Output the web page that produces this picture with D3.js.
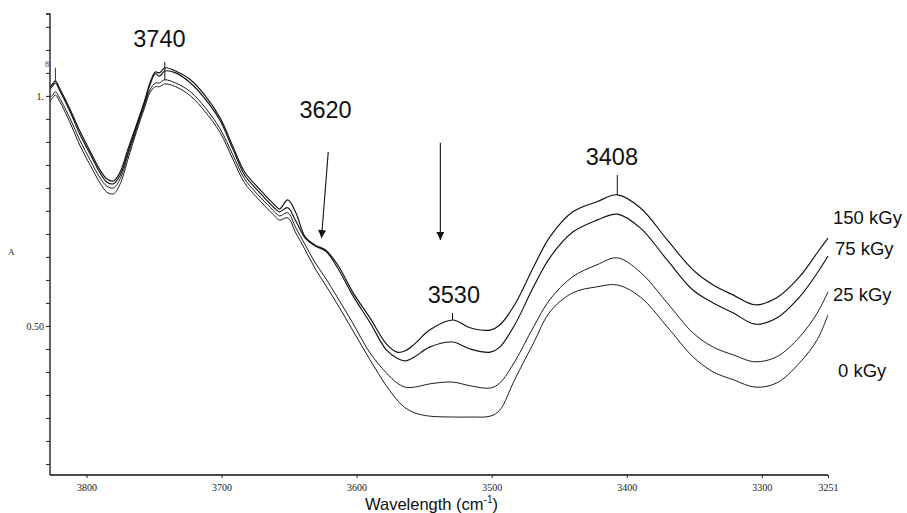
<!DOCTYPE html>
<html>
<head>
<meta charset="utf-8">
<script src="https://cdn.jsdelivr.net/npm/d3@7/dist/d3.min.js"></script>
<style>
  html, body { margin: 0; padding: 0; background: #fff; }
  svg { display: block; }
</style>
</head>
<body>
<svg id="chart" width="907" height="513"></svg>
<script>
// ---- data ----
const wavenumbers = [3827,3825,3823,3820,3812,3805,3797,3790,3785,3780,
  3775,3769,3763,3757,3753,3749,3746,3742,3734,3723,
  3712,3701,3692,3683,3675,3668,3660,3657,3651,3645,
  3638,3631,3623,3614,3603,3590,3578,3570,3564,3557,
  3546,3529,3516,3501,3494,3483,3469,3457,3440,3422,
  3407,3390,3370,3351,3336,3321,3305,3289,3272,3259,3251];

const abs150 = [1.020,1.026,1.033,1.017,0.970,0.924,0.878,0.839,0.820,0.815,
  0.835,0.887,0.937,0.989,1.028,1.052,1.050,1.061,1.054,1.035,
  1.000,0.952,0.893,0.835,0.807,0.785,0.761,0.754,0.774,0.746,
  0.693,0.676,0.665,0.633,0.574,0.517,0.461,0.443,0.446,0.461,
  0.491,0.513,0.496,0.491,0.502,0.546,0.628,0.693,0.748,0.770,
  0.785,0.757,0.687,0.622,0.589,0.567,0.546,0.561,0.607,0.659,0.691];

const abs75 = [1.015,1.022,1.028,1.013,0.965,0.917,0.872,0.833,0.813,0.809,
  0.828,0.880,0.933,0.985,1.024,1.048,1.043,1.054,1.050,1.028,
  0.993,0.946,0.887,0.828,0.800,0.778,0.754,0.748,0.757,0.728,
  0.691,0.674,0.663,0.626,0.567,0.507,0.448,0.430,0.424,0.433,
  0.454,0.465,0.450,0.443,0.454,0.502,0.585,0.648,0.704,0.730,
  0.743,0.713,0.643,0.578,0.550,0.528,0.504,0.517,0.563,0.615,0.652];

const abs25 = [0.996,1.002,1.009,0.996,0.950,0.904,0.859,0.822,0.804,0.800,
  0.820,0.874,0.928,0.980,1.013,1.028,1.028,1.035,1.028,1.009,
  0.974,0.928,0.874,0.820,0.791,0.770,0.746,0.739,0.746,0.713,
  0.676,0.639,0.604,0.561,0.507,0.441,0.398,0.376,0.367,0.367,
  0.374,0.378,0.370,0.365,0.376,0.422,0.498,0.557,0.607,0.633,
  0.648,0.617,0.550,0.485,0.454,0.437,0.422,0.433,0.476,0.528,0.574];

const abs0 = [0.989,0.996,1.002,0.989,0.941,0.893,0.848,0.811,0.791,0.787,
  0.809,0.865,0.922,0.974,1.007,1.020,1.020,1.026,1.020,1.000,
  0.965,0.920,0.865,0.811,0.783,0.761,0.737,0.730,0.735,0.702,
  0.665,0.626,0.589,0.546,0.491,0.426,0.370,0.339,0.322,0.311,
  0.304,0.302,0.302,0.304,0.317,0.383,0.463,0.530,0.572,0.585,
  0.589,0.563,0.498,0.433,0.400,0.383,0.367,0.376,0.420,0.470,0.524];

const seriesNames = ["150 kGy", "75 kGy", "25 kGy", "0 kGy"];
const seriesValues = [abs150, abs75, abs25, abs0];
const seriesLabelA = [0.722, 0.654, 0.554, 0.389];
const seriesLabelDx = [5, 7, 5, 10];

const xTickValues = [3800, 3700, 3600, 3500, 3400, 3300, 3251];
const yTickValues = [0.20,0.25,0.30,0.35,0.40,0.45,0.50,0.55,0.60,0.65,
  0.70,0.75,0.80,0.85,0.90,0.95,1.00,1.05,1.10,1.15];
const yTickLabels = {"0.50": "0.50", "1.00": "1."};

// peak annotations: label wn/A (baseline), marker wn, marker top/bottom A
const peakLabels = ["3740", "3530", "3408"];
const peakLabelWn = [3746, 3528, 3411];
const peakLabelA = [1.1065, 0.550, 0.850];
const peakMarkWn = [3742, 3529, 3407];
const peakMarkTopA = [1.074, 0.528, 0.828];
const peakMarkBotA = [1.035, 0.513, 0.785];

// arrows
const arrowLabel = "3620";
const arrowLabelWn = 3623, arrowLabelA = 0.952;
const arrowFromWn = [3621, 3538];
const arrowFromA = [0.878, 0.898];
const arrowToWn = [3626, 3538];
const arrowToA = [0.691, 0.687];

// ---- drawing ----
const svg = d3.select("#chart");
const x = d3.scaleLinear().domain([3827, 3251]).range([50, 828]);
const y = d3.scaleLinear().domain([0.176, 1.178]).range([475, 14]);

const serif = "'Liberation Serif', 'Times New Roman', serif";
const sans = "'Liberation Sans', Arial, Helvetica, sans-serif";

// y axis
const yAxis = d3.axisLeft(y).tickValues(yTickValues).tickSize(4)
  .tickFormat(d => yTickLabels[d.toFixed(2)] || "");
const gy = svg.append("g").attr("transform", "translate(50,0)").call(yAxis);
gy.select(".domain").attr("d", `M-4,${y(1.178)}H0V${y(0.176)}`).attr("stroke", "#111").attr("stroke-width", 1.3);
gy.selectAll(".tick line").attr("stroke", "#222");
gy.selectAll(".tick text").attr("font-family", serif).attr("font-size", 10).attr("fill", "#222").attr("x", -6);

// x axis
const xAxis = d3.axisBottom(x).tickValues(xTickValues).tickSize(3).tickFormat(d3.format("d"));
const gx = svg.append("g").attr("transform", "translate(0,475)").call(xAxis);
gx.select(".domain").attr("d", `M${x(3827)},0H${x(3251)}`).attr("stroke", "#111").attr("stroke-width", 1.3);
gx.selectAll(".tick line").attr("stroke", "#222");
gx.selectAll(".tick text").attr("font-family", serif).attr("font-size", 10).attr("fill", "#222").attr("dy", "0.95em");

// axis titles
svg.append("text").attr("x", 8).attr("y", 255).attr("font-family", serif).attr("font-size", 9).attr("fill", "#222").text("A");
const xt = svg.append("text").attr("x", 365).attr("y", 510).attr("font-family", sans).attr("font-size", 16.5).attr("fill", "#111");
xt.append("tspan").text("Wavelength (cm");
xt.append("tspan").attr("font-size", 10).attr("dy", -7).text("-1");
xt.append("tspan").attr("dy", 7).text(")");

// curves
const line = d3.line()
  .x((d, i) => x(wavenumbers[i]))
  .y(d => y(d))
  .curve(d3.curveCatmullRom.alpha(0.5));

svg.append("g").selectAll("path").data(seriesValues).join("path")
  .attr("d", d => line(d))
  .attr("fill", "none")
  .attr("stroke", "#111")
  .attr("stroke-width", (d, i) => i < 2 ? 1.15 : 0.95)
  .attr("stroke-linejoin", "round");

// series labels
svg.append("g").selectAll("text").data(seriesNames).join("text")
  .attr("x", (d, i) => x(3251) + seriesLabelDx[i])
  .attr("y", (d, i) => y(seriesLabelA[i]))
  .attr("font-family", sans).attr("font-size", 18.5).attr("fill", "#111")
  .text(d => d);

// peak labels and markers
svg.append("g").selectAll("text").data(peakLabels).join("text")
  .attr("x", (d, i) => x(peakLabelWn[i]))
  .attr("y", (d, i) => y(peakLabelA[i]))
  .attr("text-anchor", "middle")
  .attr("font-family", sans).attr("font-size", 23.5).attr("fill", "#111")
  .text(d => d);
svg.append("g").selectAll("line").data(peakMarkWn).join("line")
  .attr("x1", d => x(d)).attr("x2", d => x(d))
  .attr("y1", (d, i) => y(peakMarkTopA[i]))
  .attr("y2", (d, i) => y(peakMarkBotA[i]))
  .attr("stroke", "#111").attr("stroke-width", 1);

// small marker at left peak and stray label
svg.append("line").attr("x1", x(3823)).attr("x2", x(3823)).attr("y1", y(1.061)).attr("y2", y(1.030))
  .attr("stroke", "#333").attr("stroke-width", 1);
svg.append("text").attr("x", 45).attr("y", 67).attr("font-family", serif).attr("font-size", 8).attr("fill", "#444").text("8.");

// arrows
svg.append("defs").append("marker")
  .attr("id", "ah").attr("viewBox", "0 0 10 10").attr("refX", 10).attr("refY", 5)
  .attr("markerWidth", 9).attr("markerHeight", 8).attr("markerUnits", "userSpaceOnUse")
  .attr("orient", "auto")
  .append("path").attr("d", "M0,0L10,5L0,10Z").attr("fill", "#111");

svg.append("g").selectAll("line").data(arrowFromWn).join("line")
  .attr("x1", d => x(d)).attr("y1", (d, i) => y(arrowFromA[i]))
  .attr("x2", (d, i) => x(arrowToWn[i])).attr("y2", (d, i) => y(arrowToA[i]))
  .attr("stroke", "#111").attr("stroke-width", 1.1)
  .attr("marker-end", "url(#ah)");

svg.append("text").attr("x", x(arrowLabelWn)).attr("y", y(arrowLabelA))
  .attr("text-anchor", "middle").attr("font-family", sans).attr("font-size", 23.5).attr("fill", "#111")
  .text(arrowLabel);
</script>
</body>
</html>
